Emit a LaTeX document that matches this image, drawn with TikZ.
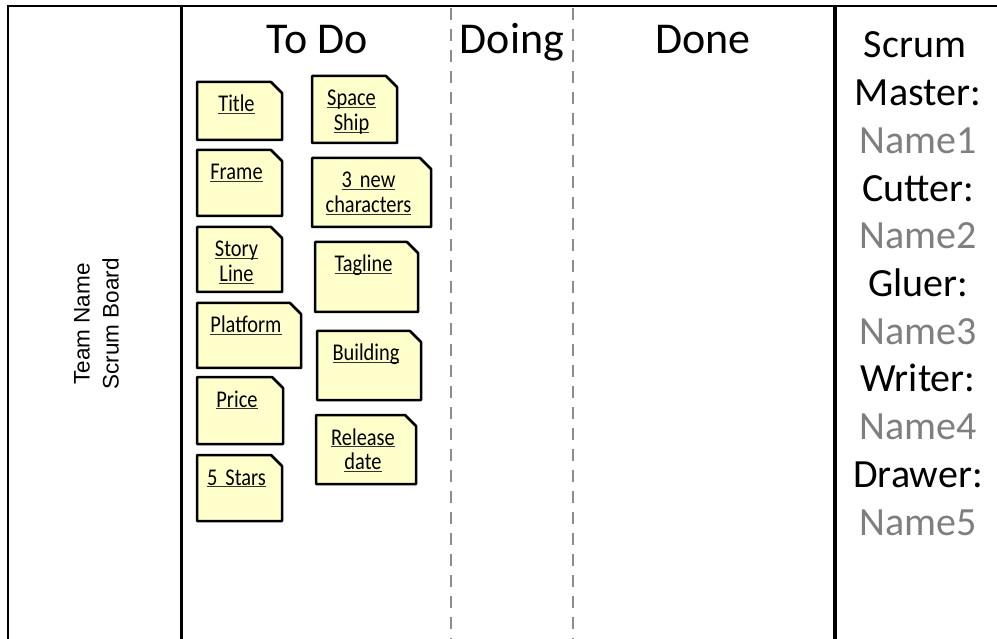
\documentclass[tikz,border=0pt]{standalone}
\usepackage{fontspec}
\setmainfont{Carlito}
\newfontfamily\notefont[FakeStretch=0.85]{Carlito}
\newfontfamily\arialfont{Liberation Sans}
\definecolor{notefill}{HTML}{FFFFCC}
\definecolor{namegray}{HTML}{7F7F7F}
\definecolor{dashgray}{HTML}{8C8C8C}
\newcommand\ulword[1]{\leavevmode\setbox0=\hbox{#1}\rlap{\color{black!80}\rule[-2.3pt]{\wd0}{1.2pt}}\box0}
\newcommand\sticky[6]{%
  \draw[notebox] (#2,#3) -- ({#4-11},#3) -- (#4,{#3+11}) -- (#4,#5) -- (#2,#5) -- cycle;
  \node[notetext, text width={#4-#2}] (#1) at ({(#2+#4)/2-3},{#3+30}) {#6};
}
\tikzset{
  notebox/.style={draw=black, fill=notefill, line width=2.5pt, line join=round},
  notetext/.style={anchor=base, inner sep=0pt, align=center, font=\notefont\fontsize{24}{24.5}\selectfont},
  colhead/.style={anchor=base, inner sep=0pt, font=\fontsize{44}{50}\selectfont},
  roletext/.style={anchor=base, inner sep=0pt, font=\fontsize{40}{46}\selectfont},
  nametext/.style={roletext, text=namegray},
  boardline/.style={draw=black, line width=2pt},
  dashline/.style={draw=dashgray, line width=2.5pt, dash pattern=on 12pt off 9pt},
}
\begin{document}
\begin{tikzpicture}[x=1pt, y=-1pt]
\useasboundingbox (0,0) rectangle (997,639);
\fill[white] (0,0) rectangle (997,639);
% board lines
\draw[boardline] (7,6) -- (997,6);
\draw[boardline] (8.3,5) -- (8.3,640);
\draw[boardline, line width=2.3pt] (181.5,5) -- (181.5,640);
\draw[boardline, line width=4pt] (835,5) -- (835,640);
\draw[dashline] (451,8) -- (451,640);
\draw[dashline] (573,8) -- (573,640);
% left panel
\node[rotate=90, align=center, inner sep=0pt, font=\arialfont\fontsize{22.5}{29}\selectfont] (team) at (96.5,324) {Team Name\\Scrum Board};
% headings
\node[colhead] (todo) at (317,54) {To Do};
\node[colhead] (doing) at (512,54) {Doing};
\node[colhead] (done) at (703,54) {Done};
% roles
\node[roletext] (r1) at (915,58) {Scrum};
\node[roletext] (r2) at (918,105.7) {Master:};
\node[nametext] (n1) at (918,153.4) {Name1};
\node[roletext] (r3) at (918,201.1) {Cutter:};
\node[nametext] (n2) at (918,248.8) {Name2};
\node[roletext] (r4) at (918,296.5) {Gluer:};
\node[nametext] (n3) at (918,344.2) {Name3};
\node[roletext] (r5) at (918,391.9) {Writer:};
\node[nametext] (n4) at (918,439.6) {Name4};
\node[roletext] (r6) at (918,487.3) {Drawer:};
\node[nametext] (n5) at (918,535) {Name5};
% sticky notes, left column
\sticky{title}{197}{82}{282}{140}{\ulword{Title}}
\sticky{frame}{197}{150}{282}{216}{\ulword{Frame}}
\sticky{story}{197}{227}{282}{292}{\ulword{Story}\\\ulword{Line}}
\sticky{platform}{197}{303}{301}{368}{\ulword{Platform}}
\sticky{price}{197}{377}{283}{444}{\ulword{Price}}
\sticky{stars}{197}{455}{282}{521}{\ulword{5 Stars}}
% sticky notes, right column
\sticky{ship}{312}{76}{397}{143}{\ulword{Space}\\\ulword{Ship}}
\sticky{chars}{312}{158}{431}{227}{\ulword{3 new}\\\ulword{characters}}
\sticky{tagline}{315}{242}{418}{312}{\ulword{Tagline}}
\sticky{building}{317}{331}{421}{400}{\ulword{Building}}
\sticky{release}{316}{415}{416}{484}{\ulword{Release}\\\ulword{date}}
\end{tikzpicture}
\end{document}
